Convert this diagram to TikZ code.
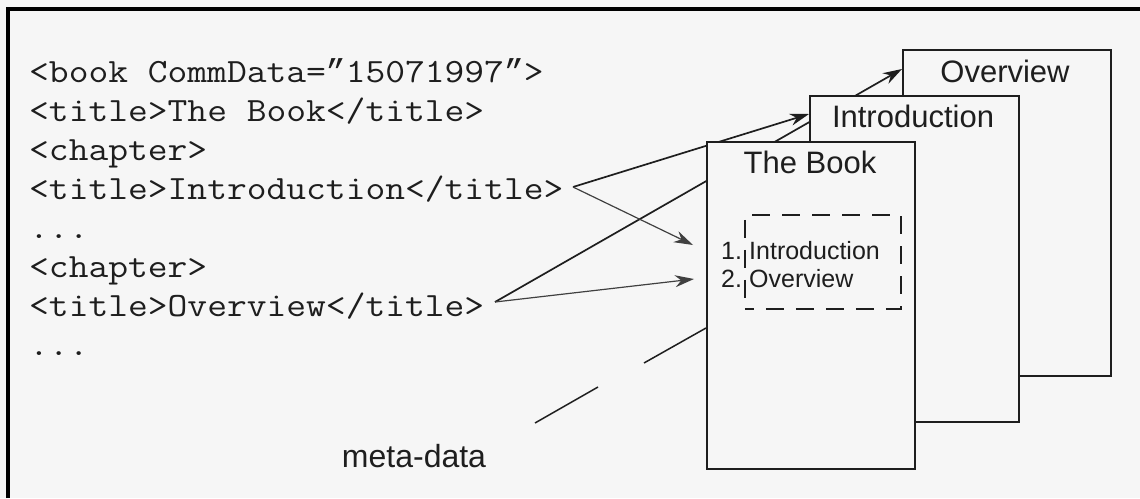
\documentclass[tikz,border=0pt]{standalone}
\usepackage{fontspec}
\setmainfont{Liberation Sans}
\newfontfamily\codefont[FakeStretch=1.13]{Latin Modern Mono}
\newfontfamily\quotefont{Liberation Mono}
\newcommand{\curlyq}{{\quotefont\fontsize{33}{39}\selectfont ”}}
\usetikzlibrary{arrows.meta}
\definecolor{ink}{HTML}{1E1E1E}
\definecolor{paper}{HTML}{F6F6F6}
\tikzset{
  code/.style={anchor=base west, inner sep=0pt, text=ink, font=\codefont\fontsize{34}{39}\selectfont},
  page/.style={draw=ink, line width=1.8pt, fill=paper, anchor=north west, inner sep=0pt},
  pagelbl/.style={anchor=base, inner sep=0pt, text=ink, font=\fontsize{31}{36}\selectfont},
  toc/.style={anchor=base west, inner sep=0pt, text=ink, font=\fontsize{25}{30}\selectfont},
  link/.style={draw=ink, line width=1.7pt, -{Stealth[length=19pt,width=12pt]}},
  thinlink/.style={draw=ink!85, line width=1.2pt, -{Stealth[length=19pt,width=12pt]}},
  leader/.style={draw=ink, line width=1.5pt}
}
\begin{document}
\begin{tikzpicture}[x=1pt,y=-1pt]
\fill[paper] (0,0) rectangle (1140,498);
\useasboundingbox (0,0) rectangle (1140,498);
\draw[line width=4pt, black] (8,498) -- (8,9) -- (1140,9);

% code
\node[code] (l1) at (29,82) {<book CommData=\curlyq15071997\curlyq>};
\node[code] (l2) at (29,121) {<title>The Book</title>};
\node[code] (l3) at (29,160) {<chapter>};
\node[code] (l4) at (29,199) {<title>Introduction</title>};
\node[code] (l5) at (29,238) {...};
\node[code] (l6) at (29,277) {<chapter>};
\node[code] (l7) at (29,316) {<title>Overview</title>};
\node[code] (l8) at (29,355) {...};

% connector points
\coordinate (p1) at (573,187);
\coordinate (p2) at (495,302);
\coordinate (t1) at (809,114);
\coordinate (t2) at (902,69);
\coordinate (t3) at (693,245);
\coordinate (t4) at (694,279);
\coordinate (m1a) at (535,423);
\coordinate (m1b) at (598,387);
\coordinate (m2a) at (644,363);
\coordinate (m2b) at (706,328);

\draw[link] (p1) -- (t1);
\draw[link] (p2) -- (t2);
\draw[thinlink] (p1) -- (t3);
\draw[thinlink] (p2) -- (t4);
\draw[leader] (m1a) -- (m1b);
\draw[leader] (m2a) -- (m2b);

% pages
\node[page, minimum width=208pt, minimum height=326pt] (over) at (902,49) {};
\node[pagelbl] (overlbl) at (1005,82) {Overview};
\node[page, minimum width=209pt, minimum height=326pt] (intro) at (809,95) {};
\node[pagelbl] (introlbl) at (913,127) {Introduction};
\node[page, minimum width=208pt, minimum height=327pt] (book) at (706,141) {};
\node[pagelbl] (booklbl) at (810,173) {The Book};

% table of contents (dashed)
\node[draw=ink, line width=1.6pt, dash pattern=on 18pt off 12pt, dash phase=9pt,
      anchor=north west, minimum width=156pt, minimum height=94pt, inner sep=0pt] (tocbox) at (744,214) {};
\node[toc] (n1) at (721,259) {1.};
\node[toc] (e1) at (749,259) {Introduction};
\node[toc] (n2) at (721,287) {2.};
\node[toc] (e2) at (749,287) {Overview};

% meta-data label
\node[anchor=base, inner sep=0pt, text=ink, font=\fontsize{32}{38}\selectfont] (meta) at (414,467) {meta-data};
\end{tikzpicture}
\end{document}
